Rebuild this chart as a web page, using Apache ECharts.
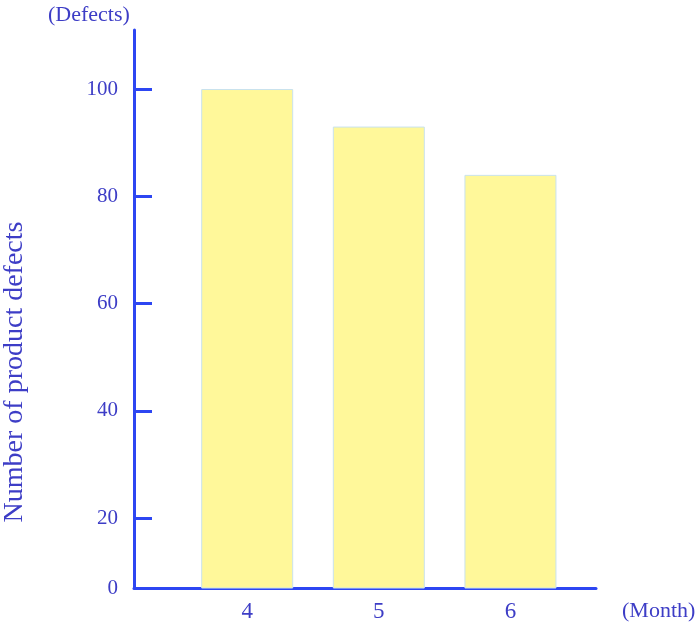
<!DOCTYPE html>
<html>
<head>
<meta charset="utf-8">
<script src="https://cdn.jsdelivr.net/npm/echarts@6/dist/echarts.min.js"></script>
<style>html,body{margin:0;padding:0;background:#fff}#c{width:700px;height:623px}</style>
</head>
<body>
<div id="c"></div>
<script>
const months = [4, 5, 6];
const defects = [100, 93, 84];
const yTickValues = [20, 40, 60, 80, 100];
const yAxisBottom = 7;      // axis drawn from here, labelled "0"
const yAxisTop = 111;
const yName = 'Number of product defects';
const yUnit = '(Defects)';
const xUnit = '(Month)';

const axisBlue = '#2d46f2';
const textBlue = '#3d3dc6';
const font = '"Liberation Serif", "Times New Roman", serif';

const chart = echarts.init(document.getElementById('c'));
chart.setOption({
  animation: false,
  grid: { left: 134, right: 104, top: 30, bottom: 34 },
  xAxis: {
    type: 'value', min: 3.14, max: 6.65,
    splitLine: { show: false },
    axisLine: { show: true, onZero: false, lineStyle: { color: axisBlue, width: 3 } },
    axisTick: { show: false },
    axisLabel: {
      customValues: months, color: textBlue, fontFamily: font, fontSize: 23, margin: 12,
      formatter: v => String(v)
    }
  },
  yAxis: {
    type: 'value', min: yAxisBottom, max: yAxisTop,
    splitLine: { show: false },
    axisLine: { show: true, lineStyle: { color: axisBlue, width: 3 } },
    axisTick: { show: true, inside: true, length: 18, customValues: yTickValues,
      lineStyle: { color: axisBlue, width: 3 } },
    axisLabel: {
      customValues: [yAxisBottom].concat(yTickValues), color: textBlue, fontFamily: font,
      fontSize: 21, margin: 16,
      formatter: v => (v === yAxisBottom ? '0' : String(v))
    }
  },
  graphic: [
    { type: 'text', left: 48, top: 4, style: { text: yUnit, fill: textBlue, font: '22px ' + font } },
    { type: 'text', left: 622, top: 600, style: { text: xUnit, fill: textBlue, font: '22px ' + font } },
    { type: 'text', x: 15, y: 372, rotation: Math.PI / 2,
      style: { text: yName, fill: textBlue, font: '28px ' + font, align: 'center', verticalAlign: 'middle' } }
  ],
  series: [{
    type: 'bar',
    barWidth: 92,
    data: months.map((m, i) => [m, defects[i]]),
    itemStyle: { color: '#fff89a', borderColor: '#c9e2ee', borderWidth: 1 }
  }]
});
</script>
</body>
</html>
